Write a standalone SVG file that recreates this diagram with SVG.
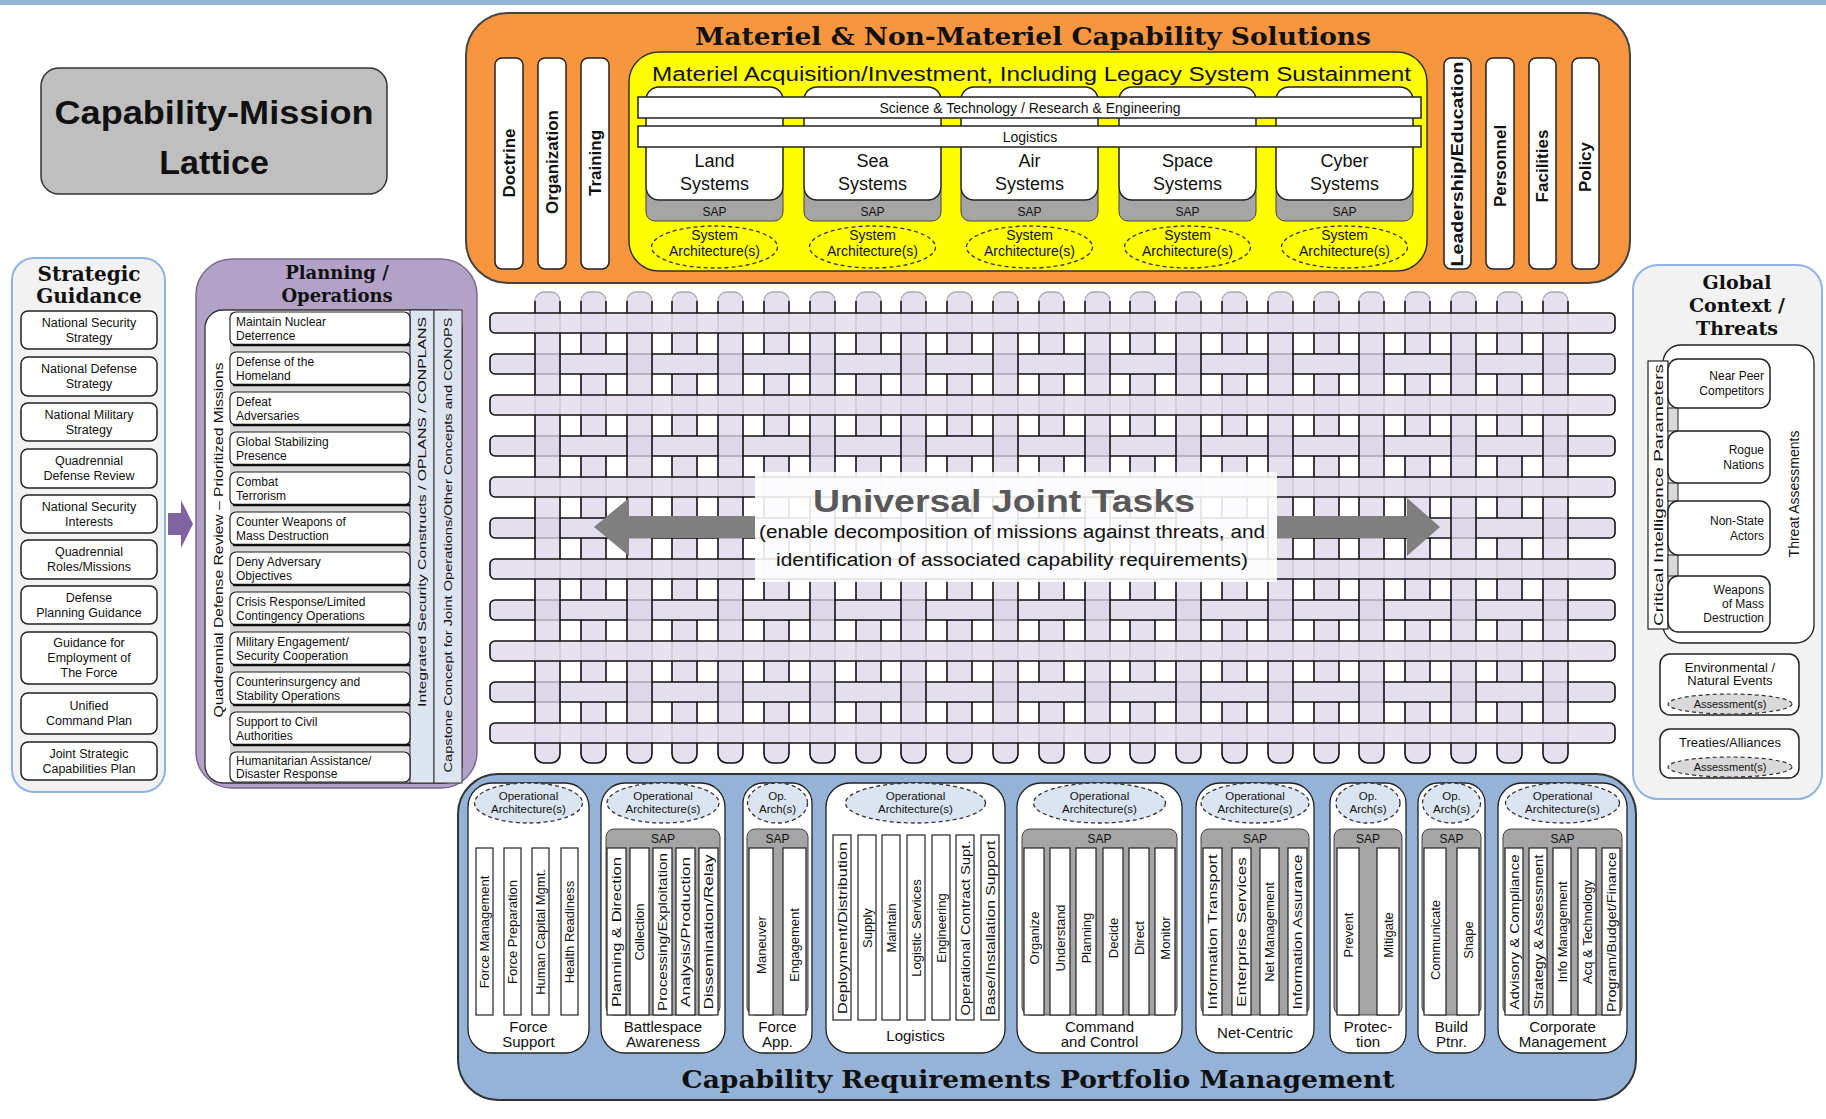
<svg xmlns="http://www.w3.org/2000/svg" width="1826" height="1119" viewBox="0 0 1826 1119">
<style>
  .sans { font-family: "Liberation Sans", Arial, sans-serif; fill: #111; }
  .serifb { font-family: "DejaVu Serif", "Liberation Serif", serif; font-weight: bold; fill: #111; }
  .mid { text-anchor: middle; }
  .wbar { fill: #fff; stroke: #222; stroke-width: 1.5; }
  .hb { fill: #e4dfec; stroke: #111; stroke-width: 1.6; }
  .hbtop { fill: #e4dfec; fill-opacity: 0.9; stroke: #111; stroke-width: 1.6; }
  .vtx { font-family: "Liberation Sans", Arial, sans-serif; font-weight: bold; font-size: 17px; text-anchor: middle; fill: #111; }
  .sg { fill: #fff; stroke: #222; stroke-width: 1.5; }
  .sgt { font-family: "Liberation Sans", Arial, sans-serif; font-size: 12.5px; text-anchor: middle; fill: #111; }
  .pi { fill: #fff; stroke: #222; stroke-width: 1.2; }
  .pit { font-family: "Liberation Sans", Arial, sans-serif; font-size: 12px; fill: #111; }
  .col { fill: #fff; stroke: #222; stroke-width: 1.3; }
  .oa { fill: #dbe5f1; stroke: #333; stroke-width: 1.3; stroke-dasharray: 4 3; }
  .oat { font-family: "Liberation Sans", Arial, sans-serif; font-size: 11.5px; text-anchor: middle; fill: #111; }
  .sap { fill: #a5a5a5; stroke: #444; stroke-width: 1; }
  .sapt { font-family: "Liberation Sans", Arial, sans-serif; font-size: 12px; text-anchor: middle; fill: #111; }
  .bb { fill: #fff; stroke: #222; stroke-width: 1.2; }
  .bt { font-family: "Liberation Sans", Arial, sans-serif; font-size: 13px; text-anchor: middle; fill: #111; }
  .cl { font-family: "Liberation Sans", Arial, sans-serif; font-size: 15px; text-anchor: middle; fill: #111; }
  .dash { fill: none; stroke: #333; stroke-width: 1.3; stroke-dasharray: 4 3; }
</style>
<defs>
  <!-- one vertical lattice strand -->
  <g id="vb">
    <rect x="0" y="292" width="25" height="471" rx="9" fill="#dcd4e8" fill-opacity="0.75"/>
    <path d="M0 301 V754 A9 9 0 0 0 9 763 H16 A9 9 0 0 0 25 754 V301" fill="none" stroke="#111" stroke-width="1.6"/>
    <path d="M0 301 A9 9 0 0 1 9 292 H16 A9 9 0 0 1 25 301" fill="none" stroke="#aaa" stroke-width="1.3"/>
  </g>
  <!-- piece of a woven row passing over a strand -->
  <g id="patch">
    <rect x="-1" y="0" width="27" height="20" fill="#e4dfec"/>
    <path d="M-1 0 H26 M-1 20 H26" stroke="#111" stroke-width="1.6"/>
  </g>
</defs>

<rect x="0" y="0" width="1826" height="1119" fill="#fff"/>
<rect x="0" y="0" width="1826" height="5" fill="#95b3d7"/>

<!-- title block -->
<g id="lattice-title">
  <rect x="41" y="68" width="346" height="126" rx="18" fill="#bfbfbf" stroke="#333" stroke-width="1.5"/>
  <text x="214" y="124" class="sans mid" font-size="34" font-weight="bold" textLength="319" lengthAdjust="spacingAndGlyphs">Capability-Mission</text>
  <text x="214" y="174" class="sans mid" font-size="34" font-weight="bold">Lattice</text>
</g>

<!-- materiel / non-materiel solutions -->
<g id="capability-solutions">
  <rect x="466" y="13" width="1164" height="270" rx="42" fill="#f7963f" stroke="#444" stroke-width="2"/>
  <text x="695" y="45" class="serifb" font-size="25" textLength="676" lengthAdjust="spacingAndGlyphs">Materiel &amp; Non-Materiel Capability Solutions</text>

  <rect class="wbar" x="495" y="58" width="28" height="211" rx="7"/>
  <rect class="wbar" x="538" y="58" width="28" height="211" rx="7"/>
  <rect class="wbar" x="581" y="58" width="28" height="211" rx="7"/>
  <text class="vtx" transform="translate(515,163) rotate(-90)">Doctrine</text>
  <text class="vtx" transform="translate(558,162) rotate(-90)">Organization</text>
  <text class="vtx" transform="translate(601,163) rotate(-90)">Training</text>

  <rect class="wbar" x="1444" y="58" width="27" height="211" rx="7"/>
  <rect class="wbar" x="1486" y="58" width="28" height="211" rx="7"/>
  <rect class="wbar" x="1529" y="58" width="27" height="211" rx="7"/>
  <rect class="wbar" x="1572" y="58" width="27" height="211" rx="7"/>
  <text class="vtx" transform="translate(1463,164) rotate(-90)" textLength="205" lengthAdjust="spacingAndGlyphs">Leadership/Education</text>
  <text class="vtx" transform="translate(1506,166) rotate(-90)">Personnel</text>
  <text class="vtx" transform="translate(1548,166) rotate(-90)">Facilities</text>
  <text class="vtx" transform="translate(1591,167) rotate(-90)">Policy</text>

  <g id="materiel-acquisition">
    <rect x="629" y="52" width="798" height="219" rx="30" fill="#ffff00" stroke="#333" stroke-width="1.5"/>
    <text x="652" y="81" class="sans" font-size="20" textLength="759" lengthAdjust="spacingAndGlyphs">Materiel Acquisition/Investment, Including Legacy System Sustainment</text>

    <!-- domain system boxes -->
    <rect class="sap" x="646" y="183" width="137" height="38" rx="9"/>
    <rect class="sap" x="804" y="183" width="137" height="38" rx="9"/>
    <rect class="sap" x="961" y="183" width="137" height="38" rx="9"/>
    <rect class="sap" x="1119" y="183" width="137" height="38" rx="9"/>
    <rect class="sap" x="1276" y="183" width="137" height="38" rx="9"/>
    <rect class="wbar" x="646" y="87" width="137" height="113" rx="13"/>
    <rect class="wbar" x="804" y="87" width="137" height="113" rx="13"/>
    <rect class="wbar" x="961" y="87" width="137" height="113" rx="13"/>
    <rect class="wbar" x="1119" y="87" width="137" height="113" rx="13"/>
    <rect class="wbar" x="1276" y="87" width="137" height="113" rx="13"/>

    <rect class="wbar" x="638" y="97" width="783" height="21"/>
    <text x="1030" y="113" class="sans mid" font-size="14">Science &amp; Technology / Research &amp; Engineering</text>
    <rect class="wbar" x="638" y="126" width="783" height="21"/>
    <text x="1030" y="142" class="sans mid" font-size="14">Logistics</text>

    <g class="sans mid" font-size="18">
      <text x="714.5" y="167">Land</text><text x="714.5" y="190">Systems</text>
      <text x="872.5" y="167">Sea</text><text x="872.5" y="190">Systems</text>
      <text x="1029.5" y="167">Air</text><text x="1029.5" y="190">Systems</text>
      <text x="1187.5" y="167">Space</text><text x="1187.5" y="190">Systems</text>
      <text x="1344.5" y="167">Cyber</text><text x="1344.5" y="190">Systems</text>
    </g>
    <g class="sapt" font-size="13">
      <text x="714.5" y="216">SAP</text>
      <text x="872.5" y="216">SAP</text>
      <text x="1029.5" y="216">SAP</text>
      <text x="1187.5" y="216">SAP</text>
      <text x="1344.5" y="216">SAP</text>
    </g>
    <ellipse class="dash" cx="714.5" cy="247" rx="63" ry="21"/>
    <ellipse class="dash" cx="872.5" cy="247" rx="63" ry="21"/>
    <ellipse class="dash" cx="1029.5" cy="247" rx="63" ry="21"/>
    <ellipse class="dash" cx="1187.5" cy="247" rx="63" ry="21"/>
    <ellipse class="dash" cx="1344.5" cy="247" rx="63" ry="21"/>
    <g class="sans mid" font-size="14">
      <text x="714.5" y="240">System</text><text x="714.5" y="256">Architecture(s)</text>
      <text x="872.5" y="240">System</text><text x="872.5" y="256">Architecture(s)</text>
      <text x="1029.5" y="240">System</text><text x="1029.5" y="256">Architecture(s)</text>
      <text x="1187.5" y="240">System</text><text x="1187.5" y="256">Architecture(s)</text>
      <text x="1344.5" y="240">System</text><text x="1344.5" y="256">Architecture(s)</text>
    </g>
  </g>
</g>

<!-- universal joint task lattice -->
<g id="ujt-lattice">
  <!-- woven rows (under) -->
  <rect class="hb" x="490" y="354" width="1125" height="20" rx="5"/>
  <rect class="hb" x="490" y="436" width="1125" height="20" rx="5"/>
  <rect class="hb" x="490" y="518" width="1125" height="20" rx="5"/>
  <rect class="hb" x="490" y="600" width="1125" height="20" rx="5"/>
  <rect class="hb" x="490" y="682" width="1125" height="20" rx="5"/>
  <!-- strands -->
  <use href="#vb" x="535"/><use href="#vb" x="581"/><use href="#vb" x="627"/><use href="#vb" x="672"/>
  <use href="#vb" x="718"/><use href="#vb" x="764"/><use href="#vb" x="810"/><use href="#vb" x="856"/>
  <use href="#vb" x="901"/><use href="#vb" x="947"/><use href="#vb" x="993"/><use href="#vb" x="1039"/>
  <use href="#vb" x="1085"/><use href="#vb" x="1130"/><use href="#vb" x="1176"/><use href="#vb" x="1222"/>
  <use href="#vb" x="1268"/><use href="#vb" x="1314"/><use href="#vb" x="1359"/><use href="#vb" x="1405"/>
  <use href="#vb" x="1451"/><use href="#vb" x="1497"/><use href="#vb" x="1543"/>
  <!-- woven rows passing over alternate strands -->
  <g>
    <use href="#patch" x="581" y="354"/><use href="#patch" x="672" y="354"/><use href="#patch" x="764" y="354"/><use href="#patch" x="856" y="354"/><use href="#patch" x="947" y="354"/><use href="#patch" x="1039" y="354"/><use href="#patch" x="1130" y="354"/><use href="#patch" x="1222" y="354"/><use href="#patch" x="1314" y="354"/><use href="#patch" x="1405" y="354"/><use href="#patch" x="1497" y="354"/>
    <use href="#patch" x="581" y="436"/><use href="#patch" x="672" y="436"/><use href="#patch" x="764" y="436"/><use href="#patch" x="856" y="436"/><use href="#patch" x="947" y="436"/><use href="#patch" x="1039" y="436"/><use href="#patch" x="1130" y="436"/><use href="#patch" x="1222" y="436"/><use href="#patch" x="1314" y="436"/><use href="#patch" x="1405" y="436"/><use href="#patch" x="1497" y="436"/>
    <use href="#patch" x="581" y="518"/><use href="#patch" x="672" y="518"/><use href="#patch" x="764" y="518"/><use href="#patch" x="856" y="518"/><use href="#patch" x="947" y="518"/><use href="#patch" x="1039" y="518"/><use href="#patch" x="1130" y="518"/><use href="#patch" x="1222" y="518"/><use href="#patch" x="1314" y="518"/><use href="#patch" x="1405" y="518"/><use href="#patch" x="1497" y="518"/>
    <use href="#patch" x="581" y="600"/><use href="#patch" x="672" y="600"/><use href="#patch" x="764" y="600"/><use href="#patch" x="856" y="600"/><use href="#patch" x="947" y="600"/><use href="#patch" x="1039" y="600"/><use href="#patch" x="1130" y="600"/><use href="#patch" x="1222" y="600"/><use href="#patch" x="1314" y="600"/><use href="#patch" x="1405" y="600"/><use href="#patch" x="1497" y="600"/>
    <use href="#patch" x="581" y="682"/><use href="#patch" x="672" y="682"/><use href="#patch" x="764" y="682"/><use href="#patch" x="856" y="682"/><use href="#patch" x="947" y="682"/><use href="#patch" x="1039" y="682"/><use href="#patch" x="1130" y="682"/><use href="#patch" x="1222" y="682"/><use href="#patch" x="1314" y="682"/><use href="#patch" x="1405" y="682"/><use href="#patch" x="1497" y="682"/>
  </g>
  <!-- continuous rows (over) -->
  <rect class="hbtop" x="490" y="313" width="1125" height="20" rx="5"/>
  <rect class="hbtop" x="490" y="395" width="1125" height="20" rx="5"/>
  <rect class="hbtop" x="490" y="477" width="1125" height="20" rx="5"/>
  <rect class="hbtop" x="490" y="559" width="1125" height="20" rx="5"/>
  <rect class="hbtop" x="490" y="641" width="1125" height="20" rx="5"/>
  <rect class="hbtop" x="490" y="723" width="1125" height="20" rx="5"/>

  <rect x="755" y="472" width="522" height="110" fill="#fff" fill-opacity="0.88"/>
  <polygon points="594,527 629,498 629,516 755,516 755,538 629,538 629,556" fill="#7f7f7f"/>
  <polygon points="1277,516 1407,516 1407,498 1440,527 1407,556 1407,538 1277,538" fill="#7f7f7f"/>
  <text x="1004" y="512" class="sans mid" font-size="32" font-weight="bold" style="fill:#595959" textLength="382" lengthAdjust="spacingAndGlyphs">Universal Joint Tasks</text>
  <text x="1012" y="538" class="sans mid" font-size="18" textLength="506" lengthAdjust="spacingAndGlyphs">(enable decomposition of missions against threats, and</text>
  <text x="1012" y="566" class="sans mid" font-size="18" textLength="472" lengthAdjust="spacingAndGlyphs">identification of associated capability requirements)</text>
</g>

<!-- strategic guidance -->
<g id="strategic-guidance">
  <rect x="12" y="258" width="153" height="534" rx="22" fill="#f2f2f2" stroke="#8eb4e3" stroke-width="2"/>
  <text x="89" y="281" class="serifb mid" font-size="20">Strategic</text>
  <text x="89" y="303" class="serifb mid" font-size="20">Guidance</text>
  <rect class="sg" x="21" y="311" width="136" height="38" rx="7"/>
  <rect class="sg" x="21" y="357" width="136" height="39" rx="7"/>
  <rect class="sg" x="21" y="403" width="136" height="38" rx="7"/>
  <rect class="sg" x="21" y="449" width="136" height="39" rx="7"/>
  <rect class="sg" x="21" y="495" width="136" height="38" rx="7"/>
  <rect class="sg" x="21" y="540" width="136" height="39" rx="7"/>
  <rect class="sg" x="21" y="586" width="136" height="38" rx="7"/>
  <rect class="sg" x="21" y="632" width="136" height="52" rx="7"/>
  <rect class="sg" x="21" y="693" width="136" height="41" rx="7"/>
  <rect class="sg" x="21" y="742" width="136" height="38" rx="7"/>
  <g class="sgt">
    <text x="89" y="327">National Security</text><text x="89" y="342">Strategy</text>
    <text x="89" y="373">National Defense</text><text x="89" y="388">Strategy</text>
    <text x="89" y="419">National Military</text><text x="89" y="434">Strategy</text>
    <text x="89" y="465">Quadrennial</text><text x="89" y="480">Defense Review</text>
    <text x="89" y="511">National Security</text><text x="89" y="526">Interests</text>
    <text x="89" y="556">Quadrennial</text><text x="89" y="571">Roles/Missions</text>
    <text x="89" y="602">Defense</text><text x="89" y="617">Planning Guidance</text>
    <text x="89" y="647">Guidance for</text><text x="89" y="662">Employment of</text><text x="89" y="677">The Force</text>
    <text x="89" y="710">Unified</text><text x="89" y="725">Command Plan</text>
    <text x="89" y="758">Joint Strategic</text><text x="89" y="773">Capabilities Plan</text>
  </g>
</g>

<g id="connectors">
  <polygon points="168,513 181,513 181,500 193,524 181,548 181,535 168,535" fill="#8064a2"/>
</g>

<!-- planning / operations -->
<g id="planning-operations">
  <rect x="196" y="259" width="281" height="529" rx="36" fill="#b3a2c7" stroke="#7a6a93" stroke-width="1.5"/>
  <text x="337" y="279" class="serifb mid" font-size="18">Planning /</text>
  <text x="337" y="302" class="serifb mid" font-size="18">Operations</text>
  <rect x="205" y="310" width="257" height="473" rx="18" fill="#fff" stroke="#333" stroke-width="1.3"/>
  <rect x="230" y="312" width="180" height="470" fill="#d4d4d4"/>
  <rect x="410" y="310" width="24" height="473" fill="#dde5f0" stroke="#333" stroke-width="1"/>
  <rect x="434" y="310" width="28" height="473" fill="#dde5f0" stroke="#333" stroke-width="1"/>
  <text class="sans mid" font-size="13" transform="translate(223,540) rotate(-90)" textLength="355" lengthAdjust="spacingAndGlyphs">Quadrennial Defense Review – Prioritized Missions</text>
  <text class="sans mid" font-size="11.5" transform="translate(426,512) rotate(-90)" textLength="390" lengthAdjust="spacingAndGlyphs">Integrated Security Constructs / OPLANS / CONPLANS</text>
  <text class="sans mid" font-size="11" transform="translate(452,545) rotate(-90)" textLength="455" lengthAdjust="spacingAndGlyphs">Capstone Concept for Joint Operations/Other Concepts and CONOPS</text>
  <g>
    <rect class="pi" x="230" y="312" width="180" height="33" rx="6"/>
    <rect class="pi" x="230" y="352" width="180" height="33" rx="6"/>
    <rect class="pi" x="230" y="392" width="180" height="33" rx="6"/>
    <rect class="pi" x="230" y="432" width="180" height="33" rx="6"/>
    <rect class="pi" x="230" y="472" width="180" height="33" rx="6"/>
    <rect class="pi" x="230" y="512" width="180" height="33" rx="6"/>
    <rect class="pi" x="230" y="552" width="180" height="33" rx="6"/>
    <rect class="pi" x="230" y="592" width="180" height="33" rx="6"/>
    <rect class="pi" x="230" y="632" width="180" height="33" rx="6"/>
    <rect class="pi" x="230" y="672" width="180" height="33" rx="6"/>
    <rect class="pi" x="230" y="712" width="180" height="33" rx="6"/>
    <rect class="pi" x="230" y="752" width="180" height="30" rx="6"/>
    <path d="M233 345H410M233 385H410M233 425H410M233 465H410M233 505H410M233 545H410M233 585H410M233 625H410M233 665H410M233 705H410M233 745H410" stroke="#111" stroke-width="2.5"/>
  </g>
  <g class="pit">
    <text x="236" y="326">Maintain Nuclear</text><text x="236" y="340">Deterrence</text>
    <text x="236" y="366">Defense of the</text><text x="236" y="380">Homeland</text>
    <text x="236" y="406">Defeat</text><text x="236" y="420">Adversaries</text>
    <text x="236" y="446">Global Stabilizing</text><text x="236" y="460">Presence</text>
    <text x="236" y="486">Combat</text><text x="236" y="500">Terrorism</text>
    <text x="236" y="526">Counter Weapons of</text><text x="236" y="540">Mass Destruction</text>
    <text x="236" y="566">Deny Adversary</text><text x="236" y="580">Objectives</text>
    <text x="236" y="606">Crisis Response/Limited</text><text x="236" y="620">Contingency Operations</text>
    <text x="236" y="646">Military Engagement/</text><text x="236" y="660">Security Cooperation</text>
    <text x="236" y="686">Counterinsurgency and</text><text x="236" y="700">Stability Operations</text>
    <text x="236" y="726">Support to Civil</text><text x="236" y="740">Authorities</text>
    <text x="236" y="765">Humanitarian Assistance/</text><text x="236" y="778">Disaster Response</text>
  </g>
</g>

<!-- global context / threats -->
<g id="global-context">
  <rect x="1633" y="265" width="189" height="534" rx="25" fill="#f2f2f2" stroke="#8eb4e3" stroke-width="2"/>
  <text x="1737" y="289" class="serifb mid" font-size="19">Global</text>
  <text x="1737" y="312" class="serifb mid" font-size="19">Context /</text>
  <text x="1737" y="335" class="serifb mid" font-size="19">Threats</text>
  <rect x="1663" y="345" width="151" height="298" rx="18" fill="#fff" stroke="#222" stroke-width="1.3"/>
  <text class="sans mid" font-size="14" transform="translate(1799,494) rotate(-90)">Threat Assessments</text>
  <rect x="1648" y="361" width="20" height="268" fill="#fff" stroke="#222" stroke-width="1.2"/>
  <rect x="1668" y="408" width="10" height="23" fill="#d9d9d9" stroke="#222" stroke-width="1"/>
  <rect x="1668" y="483" width="10" height="18" fill="#d9d9d9" stroke="#222" stroke-width="1"/>
  <rect x="1668" y="555" width="10" height="21" fill="#d9d9d9" stroke="#222" stroke-width="1"/>
  <text class="sans mid" font-size="12" transform="translate(1663,495) rotate(-90)" textLength="262" lengthAdjust="spacingAndGlyphs">Critical Intelligence Parameters</text>
  <rect class="sg" x="1668" y="359" width="102" height="49" rx="10"/>
  <rect class="sg" x="1668" y="431" width="102" height="52" rx="10"/>
  <rect class="sg" x="1668" y="501" width="102" height="54" rx="10"/>
  <rect class="sg" x="1668" y="576" width="102" height="56" rx="10"/>
  <g class="sans" font-size="12" text-anchor="end">
    <text x="1764" y="380">Near Peer</text><text x="1764" y="395">Competitors</text>
    <text x="1764" y="454">Rogue</text><text x="1764" y="469">Nations</text>
    <text x="1764" y="525">Non-State</text><text x="1764" y="540">Actors</text>
    <text x="1764" y="594">Weapons</text><text x="1764" y="608">of Mass</text><text x="1764" y="622">Destruction</text>
  </g>
  <rect class="sg" x="1660" y="654" width="139" height="61" rx="10"/>
  <text x="1730" y="672" class="sans mid" font-size="13">Environmental /</text>
  <text x="1730" y="685" class="sans mid" font-size="13">Natural Events</text>
  <ellipse cx="1730" cy="704" rx="62" ry="10" fill="#d9d9d9" stroke="#333" stroke-width="1.2" stroke-dasharray="4 3"/>
  <text x="1730" y="708" class="sans mid" font-size="11">Assessment(s)</text>
  <rect class="sg" x="1660" y="729" width="139" height="49" rx="10"/>
  <text x="1730" y="747" class="sans mid" font-size="13">Treaties/Alliances</text>
  <ellipse cx="1730" cy="767" rx="62" ry="10" fill="#d9d9d9" stroke="#333" stroke-width="1.2" stroke-dasharray="4 3"/>
  <text x="1730" y="771" class="sans mid" font-size="11">Assessment(s)</text>
</g>

<!-- capability requirements portfolio management -->
<g id="portfolio-management">
  <rect x="458" y="774" width="1178" height="326" rx="40" fill="#95b3d7" stroke="#333" stroke-width="2"/>
  <text x="1038" y="1088" class="serifb mid" font-size="25" textLength="713" lengthAdjust="spacingAndGlyphs">Capability Requirements Portfolio Management</text>

  <!-- columns -->
  <rect class="col" x="468" y="783" width="121" height="270" rx="24"/>
  <rect class="col" x="601" y="783" width="124" height="270" rx="24"/>
  <rect class="col" x="743" y="783" width="69" height="270" rx="20"/>
  <rect class="col" x="826" y="783" width="179" height="270" rx="24"/>
  <rect class="col" x="1017" y="783" width="165" height="270" rx="24"/>
  <rect class="col" x="1196" y="783" width="118" height="270" rx="24"/>
  <rect class="col" x="1330" y="783" width="76" height="270" rx="20"/>
  <rect class="col" x="1418" y="783" width="67" height="270" rx="20"/>
  <rect class="col" x="1498" y="783" width="129" height="270" rx="24"/>

  <!-- operational architecture caps -->
  <ellipse class="oa" cx="528.5" cy="803" rx="54" ry="20"/>
  <ellipse class="oa" cx="663" cy="803" rx="56" ry="20"/>
  <ellipse class="oa" cx="777.5" cy="803" rx="30" ry="20"/>
  <ellipse class="oa" cx="915.5" cy="803" rx="70" ry="20"/>
  <ellipse class="oa" cx="1099.5" cy="803" rx="66" ry="20"/>
  <ellipse class="oa" cx="1255" cy="803" rx="54" ry="20"/>
  <ellipse class="oa" cx="1368" cy="803" rx="32" ry="20"/>
  <ellipse class="oa" cx="1451.5" cy="803" rx="29" ry="20"/>
  <ellipse class="oa" cx="1562.5" cy="803" rx="57" ry="20"/>
  <g class="oat">
    <text x="528.5" y="800">Operational</text><text x="528.5" y="813">Architecture(s)</text>
    <text x="663" y="800">Operational</text><text x="663" y="813">Architecture(s)</text>
    <text x="777.5" y="800">Op.</text><text x="777.5" y="813">Arch(s)</text>
    <text x="915.5" y="800">Operational</text><text x="915.5" y="813">Architecture(s)</text>
    <text x="1099.5" y="800">Operational</text><text x="1099.5" y="813">Architecture(s)</text>
    <text x="1255" y="800">Operational</text><text x="1255" y="813">Architecture(s)</text>
    <text x="1368" y="800">Op.</text><text x="1368" y="813">Arch(s)</text>
    <text x="1451.5" y="800">Op.</text><text x="1451.5" y="813">Arch(s)</text>
    <text x="1562.5" y="800">Operational</text><text x="1562.5" y="813">Architecture(s)</text>
  </g>

  <!-- SAP bands -->
  <rect class="sap" x="606" y="829" width="114" height="186" rx="8"/>
  <rect class="sap" x="747" y="829" width="61" height="186" rx="8"/>
  <rect class="sap" x="1022" y="829" width="155" height="186" rx="8"/>
  <rect class="sap" x="1201" y="829" width="108" height="186" rx="8"/>
  <rect class="sap" x="1334" y="829" width="68" height="186" rx="8"/>
  <rect class="sap" x="1422" y="829" width="59" height="186" rx="8"/>
  <rect class="sap" x="1503" y="829" width="119" height="186" rx="8"/>
  <g class="sapt">
    <text x="663" y="843">SAP</text>
    <text x="777.5" y="843">SAP</text>
    <text x="1099.5" y="843">SAP</text>
    <text x="1255" y="843">SAP</text>
    <text x="1368" y="843">SAP</text>
    <text x="1451.5" y="843">SAP</text>
    <text x="1562.5" y="843">SAP</text>
  </g>

  <!-- capability bars -->
  <g>
    <rect class="bb" x="476" y="848" width="17" height="167"/>
    <rect class="bb" x="504" y="848" width="17" height="167"/>
    <rect class="bb" x="532" y="848" width="17" height="167"/>
    <rect class="bb" x="561" y="848" width="17" height="167"/>

    <rect class="bb" x="607" y="848" width="19" height="167"/>
    <rect class="bb" x="630" y="848" width="19" height="167"/>
    <rect class="bb" x="653" y="848" width="19" height="167"/>
    <rect class="bb" x="676" y="848" width="19" height="167"/>
    <rect class="bb" x="699" y="848" width="19" height="167"/>

    <rect class="bb" x="749" y="848" width="24" height="167"/>
    <rect class="bb" x="783" y="848" width="23" height="167"/>

    <rect class="bb" x="833" y="835" width="18" height="185"/>
    <rect class="bb" x="858" y="835" width="18" height="185"/>
    <rect class="bb" x="882" y="835" width="18" height="185"/>
    <rect class="bb" x="907" y="835" width="18" height="185"/>
    <rect class="bb" x="932" y="835" width="18" height="185"/>
    <rect class="bb" x="956" y="835" width="18" height="185"/>
    <rect class="bb" x="981" y="835" width="18" height="185"/>

    <rect class="bb" x="1024" y="848" width="20" height="167"/>
    <rect class="bb" x="1050" y="848" width="20" height="167"/>
    <rect class="bb" x="1076" y="848" width="20" height="167"/>
    <rect class="bb" x="1103" y="848" width="20" height="167"/>
    <rect class="bb" x="1129" y="848" width="20" height="167"/>
    <rect class="bb" x="1155" y="848" width="20" height="167"/>

    <rect class="bb" x="1203" y="848" width="19" height="167"/>
    <rect class="bb" x="1232" y="848" width="19" height="167"/>
    <rect class="bb" x="1260" y="848" width="19" height="167"/>
    <rect class="bb" x="1288" y="848" width="19" height="167"/>

    <rect class="bb" x="1337" y="848" width="22" height="167"/>
    <rect class="bb" x="1377" y="848" width="22" height="167"/>

    <rect class="bb" x="1424" y="848" width="22" height="167"/>
    <rect class="bb" x="1457" y="848" width="22" height="167"/>

    <rect class="bb" x="1505" y="848" width="18" height="167"/>
    <rect class="bb" x="1529" y="848" width="18" height="167"/>
    <rect class="bb" x="1553" y="848" width="18" height="167"/>
    <rect class="bb" x="1578" y="848" width="18" height="167"/>
    <rect class="bb" x="1602" y="848" width="18" height="167"/>
  </g>
  <g class="bt">
    <text transform="translate(489,932) rotate(-90)">Force Management</text>
    <text transform="translate(517,932) rotate(-90)">Force Preparation</text>
    <text transform="translate(545,932) rotate(-90)">Human Capital Mgmt.</text>
    <text transform="translate(574,932) rotate(-90)">Health Readiness</text>

    <text transform="translate(621,932) rotate(-90)" textLength="150" lengthAdjust="spacingAndGlyphs">Planning &amp; Direction</text>
    <text transform="translate(644,932) rotate(-90)">Collection</text>
    <text transform="translate(667,932) rotate(-90)" textLength="158" lengthAdjust="spacingAndGlyphs">Processing/Exploitation</text>
    <text transform="translate(690,932) rotate(-90)" textLength="150" lengthAdjust="spacingAndGlyphs">Analysis/Production</text>
    <text transform="translate(713,932) rotate(-90)" textLength="155" lengthAdjust="spacingAndGlyphs">Dissemination/Relay</text>

    <text transform="translate(766,945) rotate(-90)">Maneuver</text>
    <text transform="translate(799,945) rotate(-90)">Engagement</text>

    <text transform="translate(847,928) rotate(-90)" textLength="172" lengthAdjust="spacingAndGlyphs">Deployment/Distribution</text>
    <text transform="translate(872,928) rotate(-90)">Supply</text>
    <text transform="translate(896,928) rotate(-90)">Maintain</text>
    <text transform="translate(921,928) rotate(-90)">Logistic Services</text>
    <text transform="translate(946,928) rotate(-90)">Engineering</text>
    <text transform="translate(970,928) rotate(-90)" textLength="175" lengthAdjust="spacingAndGlyphs">Operational Contract Supt.</text>
    <text transform="translate(995,928) rotate(-90)" textLength="175" lengthAdjust="spacingAndGlyphs">Base/Installation Support</text>

    <text transform="translate(1039,938) rotate(-90)">Organize</text>
    <text transform="translate(1065,938) rotate(-90)">Understand</text>
    <text transform="translate(1091,938) rotate(-90)">Planning</text>
    <text transform="translate(1118,938) rotate(-90)">Decide</text>
    <text transform="translate(1144,938) rotate(-90)">Direct</text>
    <text transform="translate(1170,938) rotate(-90)">Monitor</text>

    <text transform="translate(1217,932) rotate(-90)" textLength="155" lengthAdjust="spacingAndGlyphs">Information Transport</text>
    <text transform="translate(1246,932) rotate(-90)" textLength="150" lengthAdjust="spacingAndGlyphs">Enterprise Services</text>
    <text transform="translate(1274,932) rotate(-90)">Net Management</text>
    <text transform="translate(1302,932) rotate(-90)" textLength="155" lengthAdjust="spacingAndGlyphs">Information Assurance</text>

    <text transform="translate(1353,935) rotate(-90)">Prevent</text>
    <text transform="translate(1393,935) rotate(-90)">Mitigate</text>

    <text transform="translate(1440,940) rotate(-90)">Communicate</text>
    <text transform="translate(1473,940) rotate(-90)">Shape</text>

    <text transform="translate(1519,932) rotate(-90)" textLength="155" lengthAdjust="spacingAndGlyphs">Advisory &amp; Compliance</text>
    <text transform="translate(1543,932) rotate(-90)" textLength="155" lengthAdjust="spacingAndGlyphs">Strategy &amp; Assessment</text>
    <text transform="translate(1567,932) rotate(-90)">Info Management</text>
    <text transform="translate(1592,932) rotate(-90)">Acq &amp; Technology</text>
    <text transform="translate(1616,932) rotate(-90)" textLength="160" lengthAdjust="spacingAndGlyphs">Program/Budget/Finance</text>
  </g>
  <g class="cl">
    <text x="528.5" y="1032">Force</text><text x="528.5" y="1047">Support</text>
    <text x="663" y="1032">Battlespace</text><text x="663" y="1047">Awareness</text>
    <text x="777.5" y="1032">Force</text><text x="777.5" y="1047">App.</text>
    <text x="915.5" y="1041">Logistics</text>
    <text x="1099.5" y="1032">Command</text><text x="1099.5" y="1047">and Control</text>
    <text x="1255" y="1038">Net-Centric</text>
    <text x="1368" y="1032">Protec-</text><text x="1368" y="1047">tion</text>
    <text x="1451.5" y="1032">Build</text><text x="1451.5" y="1047">Ptnr.</text>
    <text x="1562.5" y="1032">Corporate</text><text x="1562.5" y="1047">Management</text>
  </g>
</g>
</svg>
